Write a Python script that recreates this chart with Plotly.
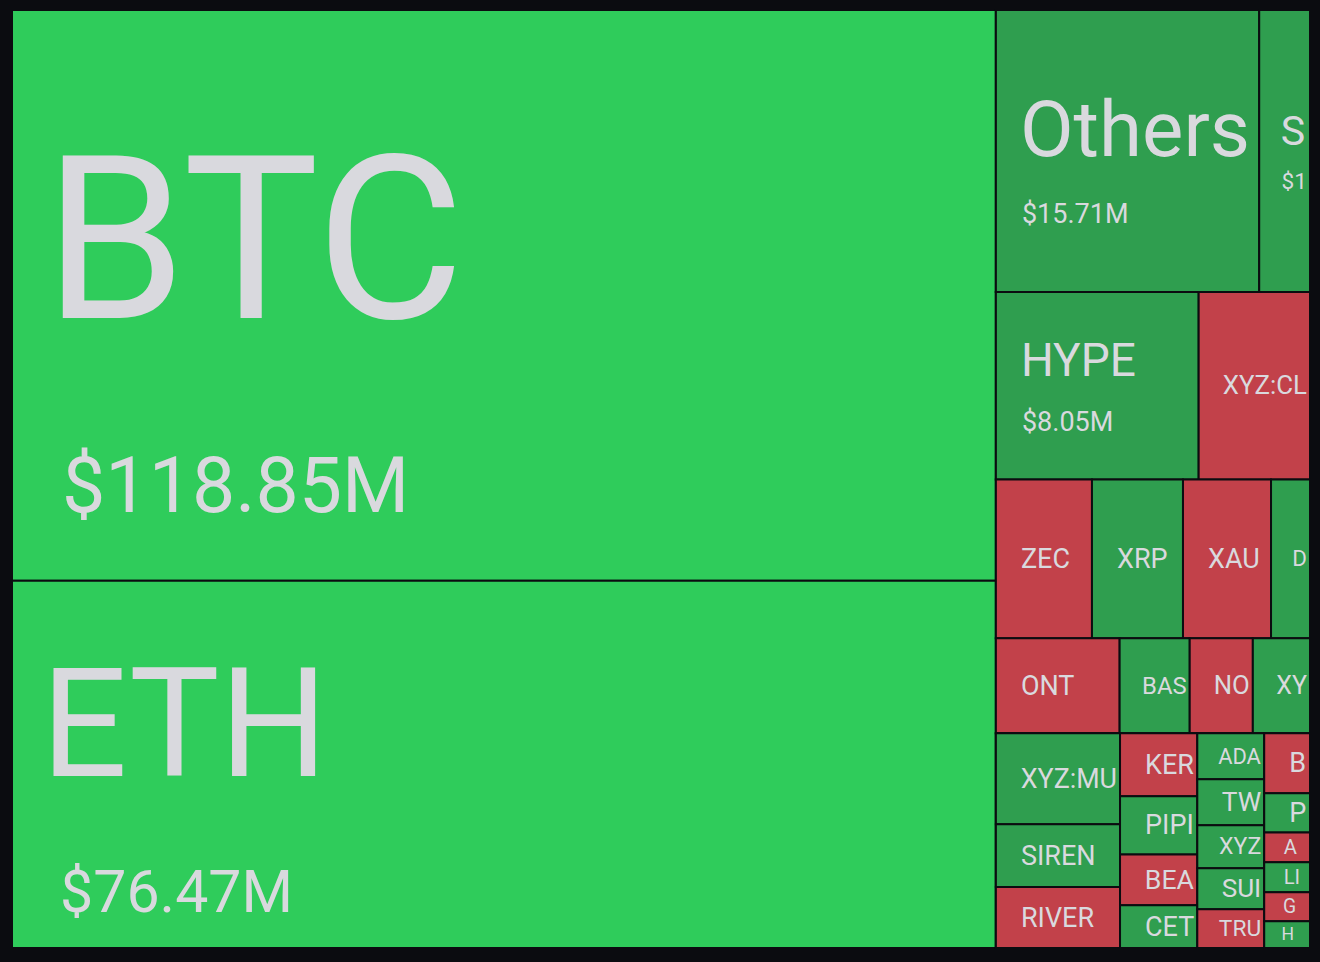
import math
import plotly.graph_objects as go

# ---------------- data ----------------
symbols = ["BTC", "ETH", "Others", "S", "HYPE", "XYZ:CL", "ZEC", "XRP", "XAU", "D",
           "ONT", "BAS", "NO", "XY", "XYZ:MU", "SIREN", "RIVER",
           "KER", "PIPI", "BEA", "CET", "ADA", "TW", "XYZ", "SUI", "TRU",
           "B", "P", "A", "LI", "G", "H"]
volumes_musd = [118.85, 76.47, 15.71, 3.03, 8.05, 4.42, 3.23, 3.06, 2.96, 1.31,
                2.49, 1.41, 1.27, 1.15, 2.39, 1.65, 1.60,
                1.03, 0.95, 0.83, 0.70, 0.65, 0.65, 0.61, 0.58, 0.55,
                0.58, 0.38, 0.29, 0.29, 0.28, 0.26]
value_labels = ["$118.85M", "$76.47M", "$15.71M", "$1", "$8.05M"] + [""] * 27
trend = ["strong", "strong", "up", "up", "up", "down", "down", "up", "down", "up",
         "down", "up", "down", "up", "up", "up", "down",
         "down", "up", "down", "up", "up", "up", "up", "up", "down",
         "down", "up", "down", "up", "down", "up"]
block = ["majors", "majors", "r1", "r1", "r2", "r2", "r3", "r3", "r3", "r3",
         "r4", "r4", "r4", "r4", "r5a", "r5a", "r5a",
         "r5b", "r5b", "r5b", "r5b", "r5c", "r5c", "r5c", "r5c", "r5c",
         "r5d", "r5d", "r5d", "r5d", "r5d", "r5d"]
block_parent = {"majors": "all", "alts": "all",
                "r1": "alts", "r2": "alts", "r3": "alts", "r4": "alts", "r5": "alts",
                "r5a": "r5", "r5b": "r5", "r5c": "r5", "r5d": "r5"}

# ---------------- style ----------------
BG = "#0b0c10"
TEXT = "#d9d9de"
COLORS = {"strong": "#2fcc5b", "up": "#2f9e4f", "down": "#c2414a"}
FONT = "Roboto, 'Open Sans', sans-serif"
SMALL = 27
# name size, value size, baseline gap, name indent, value indent, top spacer
big_style = {
    "BTC": (228, 77, 194, 29, 47, 70),
    "ETH": (152, 59, 136, 26, 45, 41),
    "Others": (78, 27, 67, 21, 23, 19),
    "HYPE": (46, 27, 55, 22, 23, 0),
    "S": (49, 27, 53, 22, 23, 0),
}
NBSP = "\u00a0"


def indent(px):
    n = max(1, math.ceil(px / 6))
    fs = px / (0.2476 * n)
    return f"<span style='font-size:{fs:.2f}px'>{NBSP * n}</span>"


def sized(txt, px):
    return f"<span style='font-size:{px}px'>{txt}</span>"


def cell_text(sym, val):
    if sym in big_style:
        n_px, v_px, gap, n_pad, v_pad, spacer = big_style[sym]
        lines = []
        if spacer:
            lines.append(sized(NBSP, spacer))
        lines.append(indent(n_pad) + sized(sym, n_px))
        lines.append(indent(v_pad) + sized(val, v_px))
        return "<br>".join(lines), gap / 1.3
    return indent(22) + sym, SMALL


ids, labels, parents, values, colors, texts, sizes = [], [], [], [], [], [], []
ids.append("all"); labels.append("all"); parents.append(""); values.append(0)
colors.append(BG); texts.append(""); sizes.append(10)
for g, p in block_parent.items():
    ids.append("grp:" + g); labels.append(g)
    parents.append("all" if p == "all" else "grp:" + p)
    values.append(0); colors.append(BG); texts.append(""); sizes.append(10)
for sym, vol, vl, tr, bl in zip(symbols, volumes_musd, value_labels, trend, block):
    t, fs = cell_text(sym, vl)
    ids.append(sym); labels.append(sym); parents.append("grp:" + bl)
    values.append(vol); colors.append(COLORS[tr]); texts.append(t); sizes.append(fs)

fig = go.Figure(go.Treemap(
    ids=ids, labels=labels, parents=parents, values=values,
    branchvalues="remainder", sort=False,
    text=texts, textinfo="text", textposition="middle left",
    textfont=dict(family=FONT, size=sizes, color=TEXT),
    marker=dict(colors=colors, depthfade=False,
                line=dict(color=BG, width=2),
                pad=dict(t=0, l=0, r=0, b=0)),
    tiling=dict(packing="slice-dice", pad=0),
    pathbar=dict(visible=False),
    root=dict(color=BG),
    hoverinfo="skip",
))
fig.update_layout(width=1320, height=962,
                  margin=dict(l=12, r=10, t=10, b=14),
                  paper_bgcolor=BG)
fig.write_html(
    "out.html",
    config={"displayModeBar": False},
    post_script="document.body.style.margin='0';"
                "document.body.style.background='" + BG + "';",
)
